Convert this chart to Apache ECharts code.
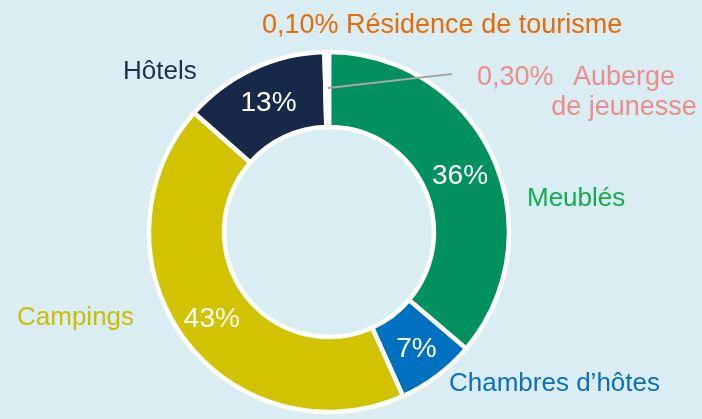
<!DOCTYPE html>
<html>
<head>
<meta charset="utf-8">
<script src="https://cdn.jsdelivr.net/npm/echarts@6/dist/echarts.min.js"></script>
<style>
  html, body { margin: 0; padding: 0; background: #daedf3; }
  #chart { width: 702px; height: 419px; }
</style>
</head>
<body>
<div id="chart"></div>
<script>
// data
var categories = ['Meublés', 'Chambres d’hôtes', 'Campings', 'Hôtels', 'Auberge de jeunesse', 'Résidence de tourisme']
var shares = [36, 7, 43, 13, 0.3, 0.1]
var pctLabels = ['36%', '7%', '43%', '13%', '0,30%', '']
var nameLabels = ['Meublés', 'Chambres d’hôtes', 'Campings', 'Hôtels', 'Auberge\nde jeunesse', '0,10% Résidence de tourisme']

var sliceColors = ['#00915e', '#0070c0', '#d2c300', '#172849', '#ffffff', '#ffffff']
var textColors = ['#12ad52', '#0a70c0', '#cbbd00', '#1f2e4e', '#ec8d8d', '#e46c0a']

// where each outside name sits (anchor x, vertical middle)
var namePos = [
  { x: 527, y: 199, align: 'left' },
  { x: 449, y: 384, align: 'left' },
  { x: 17, y: 318, align: 'left' },
  { x: 123, y: 72, align: 'left' },
  { x: 624, y: 93, align: 'center' },
  { x: 262, y: 26, align: 'left' },
]
var pctShift = [[-1, 5], [0, 1], [0, 1], [1, 3], [0, 0], [0, 0]]

var chart = echarts.init(document.getElementById('chart'))

var center = [329, 232]
var radius = [105, 180]

chart.setOption({
  backgroundColor: '#daedf3',
  animation: false,
  graphic: [
    {
      // leader line of the "Auberge de jeunesse" label
      type: 'polyline',
      shape: { points: [[328, 88], [452, 74]] },
      style: { stroke: '#a6a6a6', lineWidth: 2, fill: null },
      z: 10,
    },
  ],
  series: [
    {
      type: 'pie',
      center: center,
      radius: radius,
      startAngle: 90,
      clockwise: true,
      itemStyle: { borderColor: '#ffffff', borderWidth: 4.5 },
      label: {
        show: true,
        position: 'inside',
        color: '#ffffff',
        overflow: 'none',
        fontFamily: 'Liberation Sans, Arial, sans-serif',
        fontSize: 28,
        formatter: function (p) { return pctLabels[p.dataIndex] },
      },
      labelLine: { show: false },
      labelLayout: function (p) {
        if (p.dataIndex === 4) {
          return { x: 477, y: 78, align: 'left', verticalAlign: 'middle' }
        }
        var s = pctShift[p.dataIndex]
        return { dx: s[0], dy: s[1] }
      },
      emphasis: { disabled: true },
      data: categories.map(function (c, i) {
        var d = { name: c, value: shares[i], itemStyle: { color: sliceColors[i] } }
        if (i === 4) {
          d.label = { color: textColors[i], fontSize: 27 }
          d.labelLine = { show: false }
        }
        return d
      }),
    },
    {
      type: 'pie',
      center: center,
      radius: radius,
      startAngle: 90,
      clockwise: true,
      silent: true,
      itemStyle: { color: 'transparent', borderWidth: 0 },
      label: {
        show: true,
        position: 'outside',
        overflow: 'none',
        fontFamily: 'Liberation Sans, Arial, sans-serif',
        fontSize: 26,
        lineHeight: 30,
        formatter: function (p) { return nameLabels[p.dataIndex] },
      },
      labelLine: { show: false },
      labelLayout: function (p) {
        var pos = namePos[p.dataIndex]
        return { x: pos.x, y: pos.y, align: pos.align, verticalAlign: 'middle', moveOverlap: false }
      },
      data: categories.map(function (c, i) {
        return {
          name: c,
          value: shares[i],
          label: { color: textColors[i], fontSize: i >= 4 ? 27 : 26 },
        }
      }),
    },
  ],
})
</script>
</body>
</html>
